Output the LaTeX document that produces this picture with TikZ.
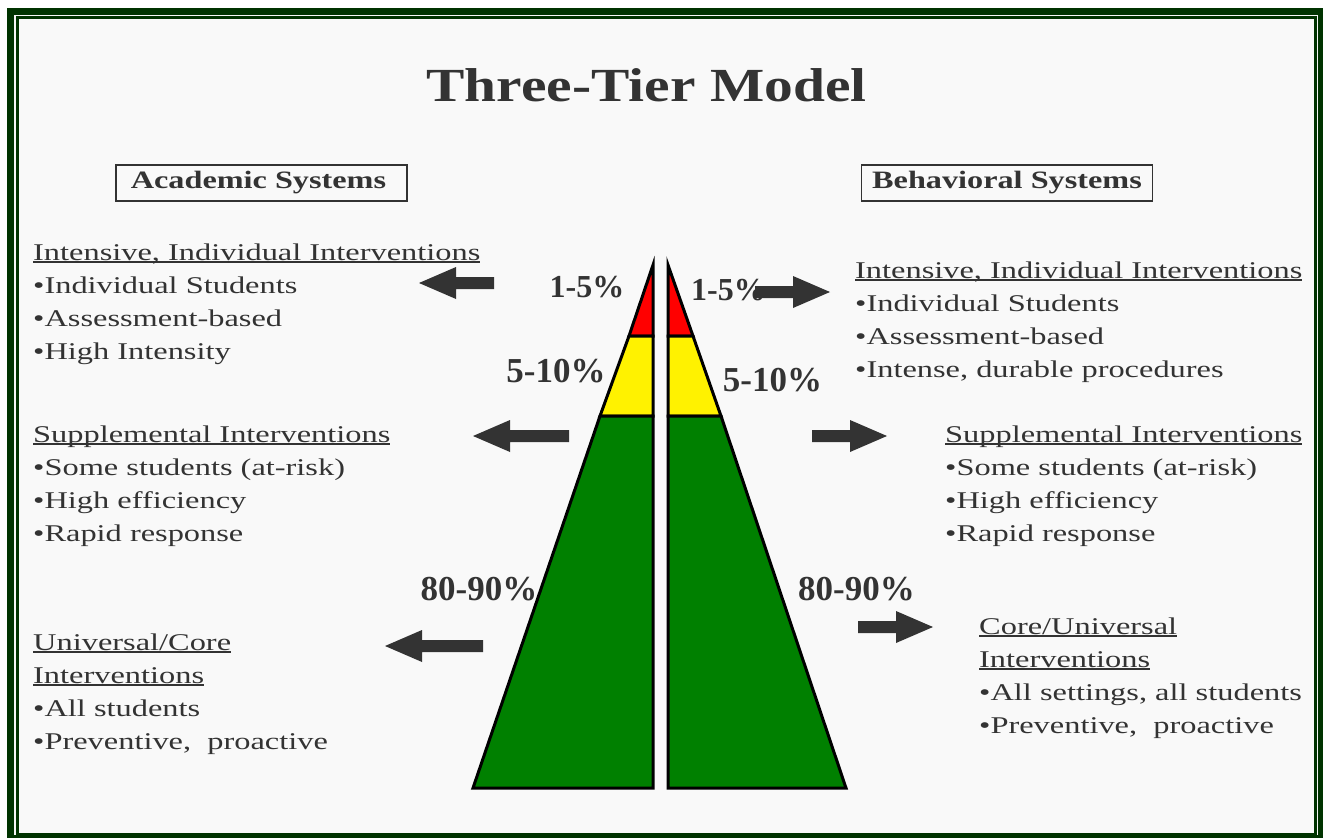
\documentclass[tikz,border=0pt]{standalone}
\usepackage{fontspec}
\setmainfont{Liberation Serif}
\newfontfamily\bodyfont[FakeStretch=1.35]{Liberation Serif}
\newfontfamily\boxfont[FakeStretch=1.29]{Liberation Serif}
\newfontfamily\titlefont[FakeStretch=1.21]{Liberation Serif}

\definecolor{framegreen}{RGB}{0,51,0}
\definecolor{tiergreen}{RGB}{0,128,0}
\definecolor{inkgray}{RGB}{51,51,51}
\definecolor{paper}{RGB}{249,249,249}

\newcommand{\hdr}[1]{\setbox0=\hbox{#1}\rlap{\rule[-2.5pt]{\wd0}{1.3pt}}\box0}

\tikzset{
	body/.style={anchor=base west, inner sep=0pt, text=inkgray, font=\bodyfont\fontsize{24}{33}\selectfont},
	pct/.style={inner sep=0pt, text=inkgray, font=\bfseries\fontsize{35}{38}\selectfont},
	pctsmall/.style={pct, font=\bfseries\fontsize{32}{35}\selectfont},
	sysbox/.style={draw=inkgray, line width=1.2pt, minimum width=291pt, minimum height=36pt, inner sep=0pt, text=inkgray, font=\boxfont\bfseries\fontsize{25}{28}\selectfont},
	tier/.style={draw=black, line width=3pt, line join=miter},
	pics/leftarrow/.style={code={\fill[inkgray] (0,0) -- (37,-16) -- (37,-6) -- (#1,-6) -- (#1,6) -- (37,6) -- (37,16) -- cycle;}},
}

\begin{document}
\begin{tikzpicture}[x=1pt, y=-1pt]
	\useasboundingbox (0,0) rectangle (1323,838);
	\fill[white] (0,0) rectangle (1323,838);

	% frame
	\fill[framegreen] (7,8) rectangle (1323,838);
	\fill[white!92!gray] (14,15) rectangle (1318,835);
	\fill[framegreen] (16,16) rectangle (1317,836);
	\fill[paper] (19,19) rectangle (1314,833);

	% title and system boxes
	\node[anchor=base, inner sep=0pt, text=inkgray, font=\titlefont\bfseries\fontsize{47.5}{50}\selectfont] (title) at (646.5,101) {Three-Tier Model};
	\node[sysbox] (acad) at (261.5,183) {Academic Systems\hspace*{6pt}};
	\node[sysbox] (behav) at (1007,183) {Behavioral Systems};

	% pyramid, academic half
	\filldraw[tier, fill=red]       (653,265) -- (629,336) -- (653,336) -- cycle;
	\filldraw[tier, fill=yellow]    (629,336) -- (600,416) -- (653,416) -- (653,336) -- cycle;
	\filldraw[tier, fill=tiergreen] (600,416) -- (473,788) -- (653,788) -- (653,416) -- cycle;
	% pyramid, behavioral half
	\filldraw[tier, fill=red]       (668,265) -- (693,336) -- (668,336) -- cycle;
	\filldraw[tier, fill=yellow]    (693,336) -- (721,416) -- (668,416) -- (668,336) -- cycle;
	\filldraw[tier, fill=tiergreen] (721,416) -- (846,788) -- (668,788) -- (668,416) -- cycle;

	% percentages
	\node[pctsmall] (aTop) at (587,287) {1-5\%};
	\node[pctsmall] (bTop) at (728.5,290) {1-5\%};
	\node[pct] (aMid) at (556,371) {5-10\%};
	\node[pct] (bMid) at (772.5,380) {5-10\%};
	\node[pct] (aLow) at (479,589) {80-90\%};
	\node[pct] (bLow) at (856.5,589) {80-90\%};

	% arrows
	\pic (arrAT) at (419,283) {leftarrow=75};
	\pic (arrAM) at (473,436) {leftarrow=96};
	\pic (arrAL) at (385,646) {leftarrow=98};
	\pic[xscale=-1] (arrBT) at (830,292) {leftarrow=75};
	\pic[xscale=-1] (arrBM) at (887,436) {leftarrow=75};
	\pic[xscale=-1] (arrBL) at (933,627) {leftarrow=75};

	% academic texts
	\foreach \line [count=\k] in {{\hdr{Intensive, Individual Interventions}}, {•Individual Students}, {•Assessment-based}, {•High Intensity}}
		\node[body] (acadA\k) at (33,227+33*\k) {\line};
	\foreach \line [count=\k] in {{\hdr{Supplemental Interventions}}, {•Some students (at-risk)}, {•High efficiency}, {•Rapid response}}
		\node[body] (acadB\k) at (33,409+33*\k) {\line};
	\foreach \line [count=\k] in {{\hdr{Universal/Core}}, {\hdr{Interventions}}, {•All students}, {•Preventive,\ \ proactive}}
		\node[body] (acadC\k) at (33,617+33*\k) {\line};

	% behavioral texts
	\foreach \line [count=\k] in {{\hdr{Intensive, Individual Interventions}}, {•Individual Students}, {•Assessment-based}, {•Intense, durable procedures}}
		\node[body] (behavA\k) at (855,245+33*\k) {\line};
	\foreach \line [count=\k] in {{\hdr{Supplemental Interventions}}, {•Some students (at-risk)}, {•High efficiency}, {•Rapid response}}
		\node[body] (behavB\k) at (945,409+33*\k) {\line};
	\foreach \line [count=\k] in {{\hdr{Core/Universal}}, {\hdr{Interventions}}, {•All settings, all students}, {•Preventive,\ \ proactive}}
		\node[body] (behavC\k) at (979,601+33*\k) {\line};
\end{tikzpicture}
\end{document}
